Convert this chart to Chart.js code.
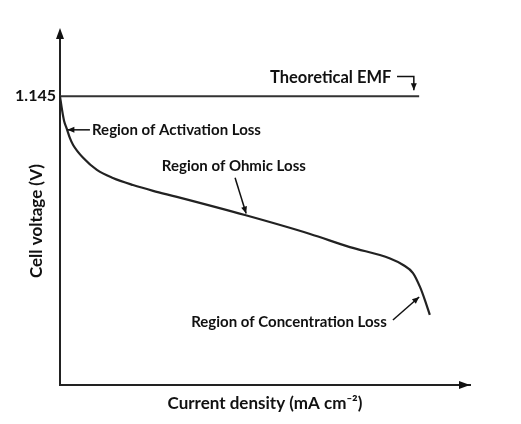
<!DOCTYPE html>
<html>
<head>
<meta charset="utf-8">
<script src="https://cdn.jsdelivr.net/npm/chart.js@4"></script>
<style>
  html, body { margin: 0; padding: 0; background: #fff; }
  #wrap { width: 521px; height: 424px; }
</style>
</head>
<body>
<div id="wrap"><canvas id="polarChart"></canvas></div>
<script>
// polarisation curve, values
const currentDensity = [0, 0.5, 1.0, 1.6, 2.4, 3.2, 5.7, 9.0, 12.9, 17.8, 22.7, 28.5, 45.1, 61.0, 70.7, 80.5, 83.7, 86.1, 87.8, 89.0, 90.2];
const cellVoltage = [1.145, 1.091, 1.047, 1.019, 0.980, 0.952, 0.900, 0.853, 0.821, 0.793, 0.770, 0.746, 0.674, 0.599, 0.547, 0.502, 0.476, 0.444, 0.389, 0.337, 0.278];

// theoretical EMF line
const emfValue = 1.145;
const emfRange = [0, 87.6];

const yTicks = [1.145];

const FONT = 'Lato, "Open Sans", sans-serif';

// labels with arrows, anchored in data coordinates
const notes = [
  { text: "Region of Activation Loss", x: 7.8, y: 1.010, size: 15, align: "left", arrow: [[7.3, 1.012], [1.8, 1.012]] },
  { text: "Region of Ohmic Loss", x: 42.4, y: 0.866, size: 15, align: "center", arrow: [[42.7, 0.822], [45.4, 0.680]] },
  { text: "Region of Concentration Loss", x: 32.0, y: 0.250, size: 15, align: "left", arrow: [[81.2, 0.258], [87.6, 0.349]] },
  { text: "Theoretical EMF", x: 51.2, y: 1.220, size: 16.5, align: "left", arrow: [[82.2, 1.224], [86.3, 1.224], [86.3, 1.169]] }
];

function arrowHead(ctx, fx, fy, tx, ty, len, half) {
  const a = Math.atan2(ty - fy, tx - fx);
  ctx.beginPath();
  ctx.moveTo(tx, ty);
  ctx.lineTo(tx - len * Math.cos(a) + half * Math.sin(a), ty - len * Math.sin(a) - half * Math.cos(a));
  ctx.lineTo(tx - len * Math.cos(a) - half * Math.sin(a), ty - len * Math.sin(a) + half * Math.cos(a));
  ctx.closePath();
  ctx.fill();
}

const notesPlugin = {
  id: "notes",
  afterDraw(chart) {
    const { ctx, chartArea, scales: { x, y } } = chart;
    ctx.save();
    ctx.fillStyle = "#111";
    ctx.strokeStyle = "#111";

    // axis arrow heads
    arrowHead(ctx, chartArea.left, chartArea.bottom, chartArea.left, chartArea.top - 4, 11, 4);
    arrowHead(ctx, chartArea.left, chartArea.bottom, chartArea.right, chartArea.bottom, 11, 4);

    // y axis title
    ctx.font = "bold 17px " + FONT;
    ctx.textAlign = "center";
    ctx.textBaseline = "middle";
    ctx.translate(37, y.getPixelForValue(0.65));
    ctx.rotate(-Math.PI / 2);
    ctx.fillText("Cell voltage (V)", 0, 0);
    ctx.setTransform(1, 0, 0, 1, 0, 0);

    // annotations
    ctx.lineWidth = 1.5;
    notes.forEach(n => {
      ctx.font = "bold " + n.size + "px " + FONT;
      ctx.textAlign = n.align;
      ctx.fillText(n.text, x.getPixelForValue(n.x), y.getPixelForValue(n.y));
      const pts = n.arrow.map(p => [x.getPixelForValue(p[0]), y.getPixelForValue(p[1])]);
      ctx.beginPath();
      ctx.moveTo(pts[0][0], pts[0][1]);
      for (let i = 1; i < pts.length; i++) ctx.lineTo(pts[i][0], pts[i][1]);
      ctx.stroke();
      const a = pts[pts.length - 2], b = pts[pts.length - 1];
      arrowHead(ctx, a[0], a[1], b[0], b[1], 7, 3);
    });
    ctx.restore();
  }
};

new Chart(document.getElementById("polarChart"), {
  type: "line",
  data: {
    datasets: [
      {
        label: "Cell voltage",
        data: currentDensity.map((c, i) => ({ x: c, y: cellVoltage[i] })),
        borderColor: "#222",
        borderWidth: 2.2,
        pointRadius: 0,
        cubicInterpolationMode: "monotone",
        fill: false
      },
      {
        label: "Theoretical EMF",
        data: emfRange.map(c => ({ x: c, y: emfValue })),
        borderColor: "#333",
        borderWidth: 2,
        pointRadius: 0,
        fill: false
      }
    ]
  },
  plugins: [notesPlugin],
  options: {
    responsive: true,
    maintainAspectRatio: false,
    animation: false,
    layout: { padding: { top: 32, right: 51, left: 0, bottom: 0 } },
    plugins: {
      legend: { display: false },
      tooltip: { enabled: false }
    },
    scales: {
      x: {
        type: "linear",
        min: 0,
        max: 100,
        grid: { display: false, drawTicks: false },
        border: { display: true, color: "#222", width: 2 },
        ticks: { display: false },
        title: {
          display: true,
          text: "Current density (mA cm⁻²)",
          color: "#111",
          font: { family: FONT, size: 17, weight: "bold" },
          padding: { top: 4, bottom: 10 }
        },
        afterFit: function (scale) { scale.height = 39; }
      },
      y: {
        type: "linear",
        min: 0,
        max: 1.4,
        grid: { display: false, drawTicks: false },
        border: { display: true, color: "#222", width: 2 },
        ticks: {
          color: "#111",
          padding: 4,
          font: { family: FONT, size: 16, weight: "bold" },
          callback: function (value) { return value.toFixed(3); }
        },
        afterBuildTicks: function (scale) {
          scale.ticks = yTicks.map(v => ({ value: v }));
        },
        afterFit: function (scale) { scale.width = 60; }
      }
    }
  }
});
</script>
</body>
</html>
